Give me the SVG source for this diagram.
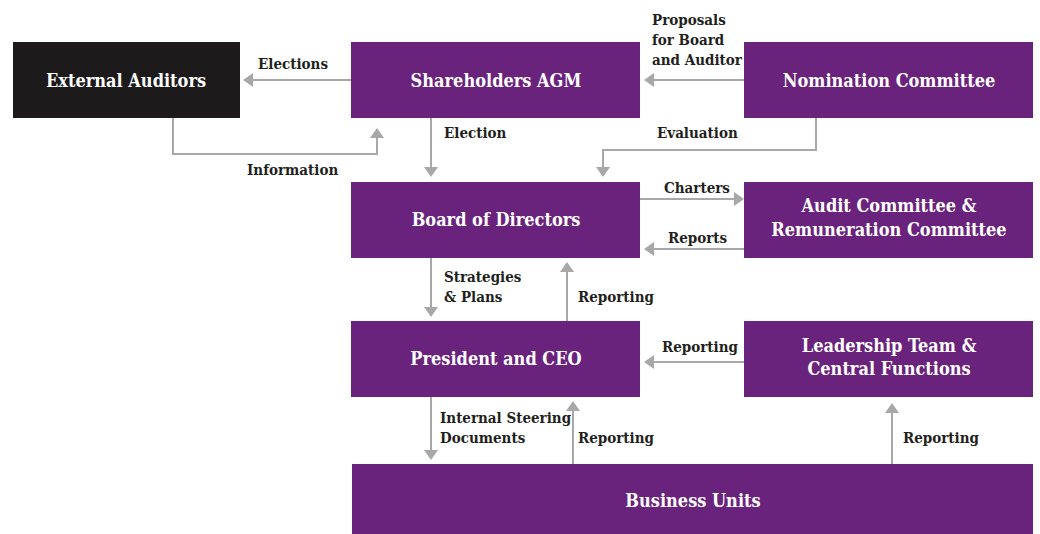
<svg xmlns="http://www.w3.org/2000/svg" width="1040" height="534" viewBox="0 0 1040 534">
<style>
.box{fill:#6a237c}
.dark{fill:#1c1a1a}
.nt{font-family:"DejaVu Serif","Liberation Serif",serif;font-weight:bold;font-size:18px;fill:#ffffff;text-anchor:middle;font-stretch:condensed}
.lb{font-family:"DejaVu Serif","Liberation Serif",serif;font-weight:bold;font-size:15px;fill:#231f20;font-stretch:condensed}
.ln{fill:none;stroke:#a8a8a8;stroke-width:2}
.ah{fill:#a8a8a8}
</style>
<rect width="1040" height="534" fill="#ffffff"/>
<g id="connectors">
<path class="ln" d="M351 80H252"/><path class="ah" d="M243 80L253 73V87Z"/>
<path class="ln" d="M173 118V154H377V137"/><path class="ah" d="M377 128L370 138H384Z"/>
<path class="ln" d="M744 80H654"/><path class="ah" d="M644 80L654 73V87Z"/>
<path class="ln" d="M431 118V168"/><path class="ah" d="M431 177L424 167H438Z"/>
<path class="ln" d="M816 118V150H603V168"/><path class="ah" d="M603 177L596 167H610Z"/>
<path class="ln" d="M640 199H734"/><path class="ah" d="M744 199L734 192V206Z"/>
<path class="ln" d="M744 249H654"/><path class="ah" d="M644 249L654 242V256Z"/>
<path class="ln" d="M431 258V308"/><path class="ah" d="M431 317L424 307H438Z"/>
<path class="ln" d="M567 321V272"/><path class="ah" d="M567 262L560 272H574Z"/>
<path class="ln" d="M744 362H654"/><path class="ah" d="M644 362L654 355V369Z"/>
<path class="ln" d="M431 397V451"/><path class="ah" d="M431 460L424 450H438Z"/>
<path class="ln" d="M573 464V411"/><path class="ah" d="M573 401L566 411H580Z"/>
<path class="ln" d="M892 464V413"/><path class="ah" d="M892 403L885 413H899Z"/>
</g>
<g id="labels">
<text class="lb" x="258" y="69">Elections</text>
<text class="lb" x="247" y="175">Information</text>
<text class="lb" x="652" y="25">Proposals</text>
<text class="lb" x="652" y="45">for Board</text>
<text class="lb" x="652" y="65">and Auditor</text>
<text class="lb" x="444" y="138">Election</text>
<text class="lb" x="657" y="138">Evaluation</text>
<text class="lb" x="664" y="193">Charters</text>
<text class="lb" x="668" y="243">Reports</text>
<text class="lb" x="444" y="282">Strategies</text>
<text class="lb" x="444" y="302">&amp; Plans</text>
<text class="lb" x="578" y="302">Reporting</text>
<text class="lb" x="662" y="352">Reporting</text>
<text class="lb" x="440" y="423">Internal Steering</text>
<text class="lb" x="440" y="443">Documents</text>
<text class="lb" x="578" y="443">Reporting</text>
<text class="lb" x="903" y="443">Reporting</text>
</g>
<g id="external-auditors"><rect class="dark" x="13" y="42" width="227" height="76"/><text class="nt" x="126" y="87">External Auditors</text></g>
<g id="shareholders-agm"><rect class="box" x="351" y="42" width="289" height="76"/><text class="nt" x="496" y="87">Shareholders AGM</text></g>
<g id="nomination-committee"><rect class="box" x="744" y="42" width="289" height="76"/><text class="nt" x="889" y="87">Nomination Committee</text></g>
<g id="board-of-directors"><rect class="box" x="351" y="182" width="289" height="76"/><text class="nt" x="496" y="226">Board of Directors</text></g>
<g id="audit-committee"><rect class="box" x="744" y="182" width="289" height="76"/><text class="nt" x="889" y="212">Audit Committee &amp;</text><text class="nt" x="889" y="236">Remuneration Committee</text></g>
<g id="president-ceo"><rect class="box" x="351" y="321" width="289" height="76"/><text class="nt" x="496" y="365">President and CEO</text></g>
<g id="leadership-team"><rect class="box" x="744" y="321" width="289" height="76"/><text class="nt" x="889" y="352">Leadership Team &amp;</text><text class="nt" x="889" y="375">Central Functions</text></g>
<g id="business-units"><rect class="box" x="352" y="464" width="681" height="70"/><text class="nt" x="693" y="507">Business Units</text></g>
</svg>
